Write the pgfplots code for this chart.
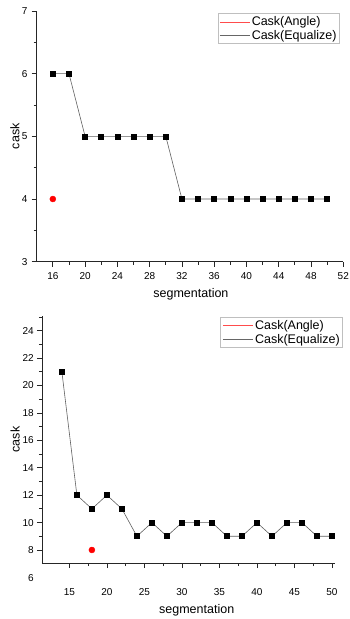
\documentclass[border=0pt]{standalone}
\usepackage{fontspec}
\setmainfont{Liberation Sans}
\usepackage{pgfplots}
\pgfplotsset{compat=1.18}
\pgfplotsset{
  common/.style={
    scale only axis,
    axis x line*=bottom, axis y line*=left,
    axis line style={line width=0.8pt, black!85},
    tick align=outside,
    tick style={line width=0.8pt, black!85},
    major tick length=5pt, minor tick length=3pt,
    /pgf/number format/assume math mode=true,
    tick label style={font=\fontsize{10}{12}\selectfont},
    legend cell align=left,
    legend style={draw=gray!50, line width=0.8pt, font=\fontsize{12.5}{14}\selectfont,
      inner sep=1.5pt, row sep=0pt, nodes={inner sep=1.5pt}},
    legend image code/.code={\draw[#1, mark=none] (-2pt,0pt) -- (28pt,0pt);},
    clip=false,
  },
  eq/.style={gray!75!black, line width=0.6pt, mark=square*, mark size=2.5pt,
    mark options={black, fill=black}},
  ang/.style={only marks, mark=*, mark size=3pt, mark options={red, fill=red}, forget plot},
}
\begin{document}
\begin{tikzpicture}
\useasboundingbox (0pt,0pt) rectangle (349pt,619pt);
% ---------------- top chart ----------------
\begin{axis}[common,
  at={(36.7pt,357.3pt)}, anchor=south west,
  width=306.6pt, height=250.7pt,
  xmin=14, xmax=52, ymin=3, ymax=7,
  xtick={16,20,...,52}, minor x tick num=1,
  ytick={3,4,5,6,7}, minor y tick num=1,
  xticklabel style={anchor=center, inner sep=0pt, yshift=-9.3pt},
  yticklabel style={anchor=east, inner sep=0pt, xshift=-4pt},
  xlabel={segmentation}, ylabel={cask},
  every axis x label/.style={at={(axis description cs:0.503,-0.129)}, anchor=center, font=\fontsize{12.5}{14}\selectfont},
  every axis y label/.style={at={(axis description cs:-0.0708,0.5)}, rotate=90, anchor=center, font=\fontsize{12.5}{14}\selectfont},
  legend style={at={(0.989,0.991)}, anchor=north east},
]
\addlegendimage{red!70, line width=0.7pt}
\addlegendentry{Cask(Angle)}
\addlegendimage{gray!80!black, line width=0.6pt}
\addlegendentry{Cask(Equalize)}
\addplot[ang] coordinates {(16,4)};
\addplot[eq, forget plot] coordinates {
(16,6) (18,6) (20,5) (22,5) (24,5) (26,5) (28,5) (30,5)
(32,4) (34,4) (36,4) (38,4) (40,4) (42,4) (44,4) (46,4) (48,4) (50,4)};
\end{axis}
% ---------------- bottom chart ----------------
\begin{axis}[common,
  at={(42pt,56pt)}, anchor=south west,
  width=293pt, height=247pt,
  xmin=11.35, xmax=50.4, ymin=7.05, ymax=25.07,
  xtick={15,20,...,50}, minor x tick num=1,
  ytick={8,10,...,24}, minor ytick={9,11,...,23,25},
  xticklabel style={anchor=center, inner sep=0pt, yshift=-23.7pt},
  yticklabel style={anchor=east, inner sep=0pt, xshift=-3pt},
  xlabel={segmentation}, ylabel={cask},
  every axis x label/.style={at={(axis description cs:0.528,-0.19)}, anchor=center, font=\fontsize{12.5}{14}\selectfont},
  every axis y label/.style={at={(axis description cs:-0.092,0.5)}, rotate=90, anchor=center, font=\fontsize{12.5}{14}\selectfont},
  legend style={at={(1.028,0.996)}, anchor=north east},
]
\addlegendimage{red!70, line width=0.7pt}
\addlegendentry{Cask(Angle)}
\addlegendimage{gray!80!black, line width=1.2pt}
\addlegendentry{Cask(Equalize)}
\addplot[ang] coordinates {(18,8)};
\addplot[eq, forget plot] coordinates {
(14,21) (16,12) (18,11) (20,12) (22,11) (24,9) (26,10) (28,9) (30,10) (32,10)
(34,10) (36,9) (38,9) (40,10) (42,9) (44,10) (46,10) (48,9) (50,9)};
\node[anchor=east, inner sep=0pt, font=\fontsize{10}{12}\selectfont] at ([xshift=-8pt,yshift=-14.7pt]rel axis cs:0,0) {6};
\end{axis}
\end{tikzpicture}
\end{document}
